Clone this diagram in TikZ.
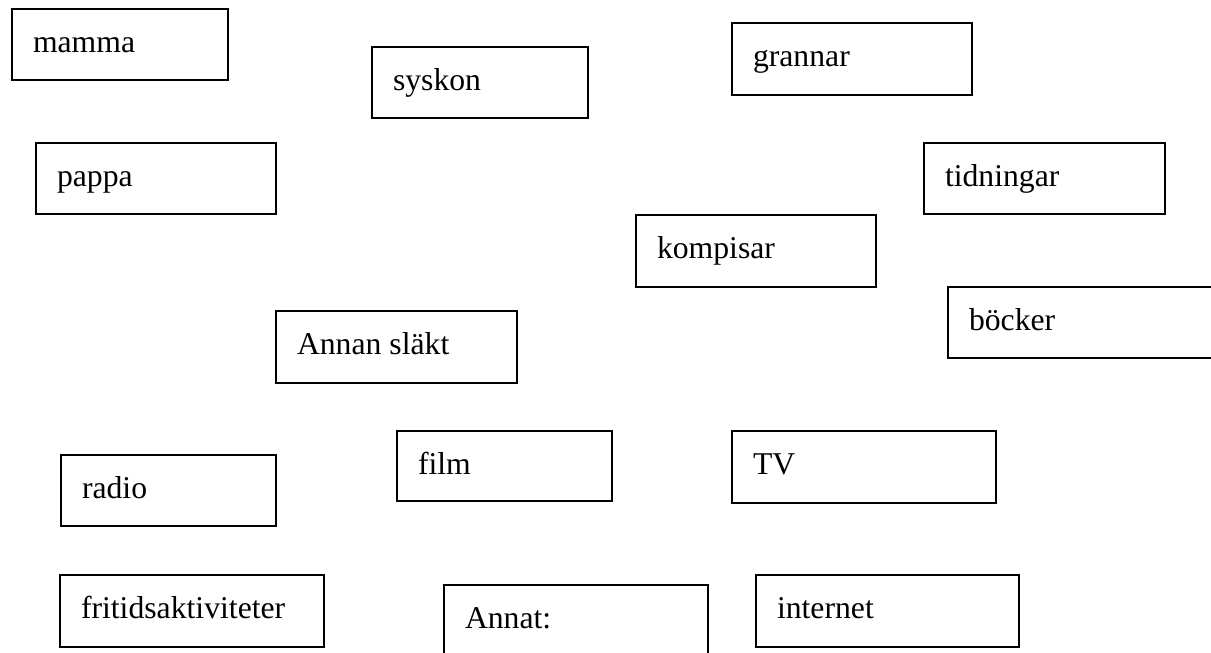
\documentclass[tikz,border=0pt]{standalone}
\usepackage{fontspec}
\setmainfont{Liberation Serif}
\usetikzlibrary{calc}
\tikzset{
  box/.style={draw=black, line width=1.5pt, anchor=north west, inner sep=0pt, outer sep=0pt, fill=none},
  lbl/.style={anchor=base west, inner sep=0pt, outer sep=0pt, font=\fontsize{31.7}{38}\selectfont}
}
\newcommand{\mybox}[6]{%
  \node[box, minimum width=#4pt, minimum height=#5pt] (#1) at (#2,#3) {};
  \node[lbl] (#1-t) at ($(#1.north west)+(21,43.5)$) {#6};
}
\begin{document}
\begin{tikzpicture}[x=1pt,y=-1pt]
\useasboundingbox (0,0) rectangle (1211,653);
\mybox{mamma}{12}{9}{216}{71}{mamma}
\mybox{syskon}{372}{47}{216}{71}{syskon}
\mybox{grannar}{732}{23}{240}{72}{grannar}
\mybox{pappa}{36}{143}{240}{71}{pappa}
\mybox{tidningar}{924}{143}{241}{71}{tidningar}
\mybox{kompisar}{636}{215}{240}{72}{kompisar}
\mybox{bocker}{948}{287}{270}{71}{böcker}
\mybox{annan}{276}{311}{241}{72}{Annan släkt}
\mybox{radio}{61}{455}{215}{71}{radio}
\mybox{film}{397}{431}{215}{70}{film}
\mybox{tv}{732}{431}{264}{72}{TV}
\mybox{fritid}{60}{575}{264}{72}{fritidsaktiviteter}
\mybox{annat}{444}{585}{264}{80}{Annat:}
\mybox{internet}{756}{575}{263}{72}{internet}
\end{tikzpicture}
\end{document}
